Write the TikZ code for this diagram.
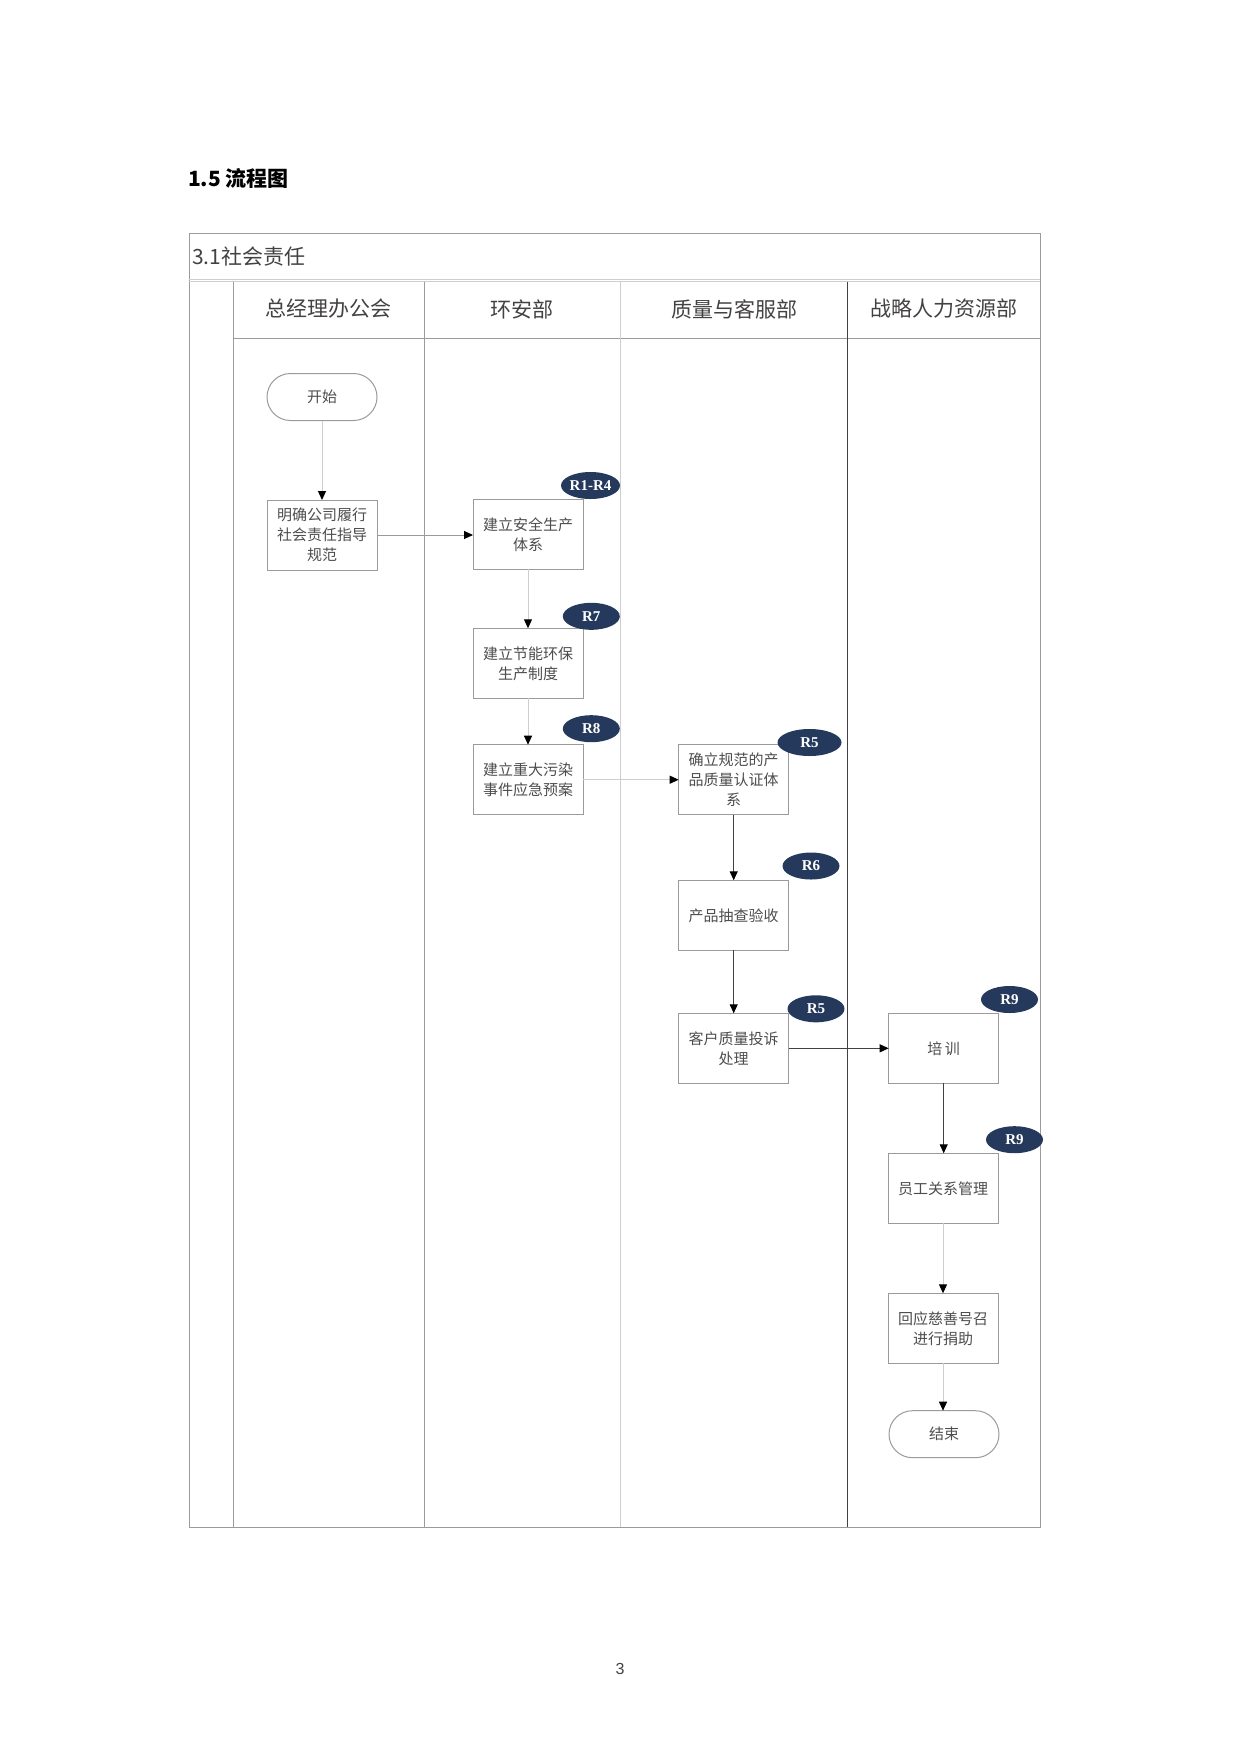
\documentclass[tikz,border=0pt]{standalone}
\usepackage{fontspec}
\setmainfont{Noto Sans CJK SC}
\newfontfamily\tagfamily{Liberation Serif}
\newfontfamily\pagefamily{Liberation Sans}
\newcommand*{\boxfont}{\fontsize{15}{20}\selectfont}
\newcommand*{\headfont}{\fontsize{21}{24}\selectfont}
\newcommand*{\tagfont}{\tagfamily\bfseries\fontsize{15}{15}\selectfont}
\definecolor{navy}{cmyk}{0.74,0.41,0.00,0.61}
\definecolor{lightgrey}{cmyk}{0.00,0.00,0.00,0.22}
\definecolor{grey}{cmyk}{0.00,0.00,0.00,0.45}
\definecolor{darkgrey}{cmyk}{0.00,0.00,0.00,0.85}
\definecolor{textgrey}{cmyk}{0.00,0.00,0.00,0.80}
\usetikzlibrary{arrows.meta}
\usetikzlibrary{shapes.geometric}
\tikzstyle{base}=[x=1pt, y=-1pt, inner sep=0pt, outer sep=0pt, line width=1pt]
\tikzstyle{task}=[draw=grey, fill=white, minimum width=110pt, minimum height=70pt, align=center, text=textgrey, font=\boxfont]
\tikzstyle{terminal}=[task, minimum height=47pt, rounded corners=23.5pt]
\tikzstyle{tag}=[ellipse, fill=navy, minimum width=57pt, minimum height=27pt, text=white, font=\tagfont]
\tikzstyle{flow}=[-{Triangle[length=9pt,width=8pt,color=black]}, darkgrey]
\tikzstyle{faint}=[flow, draw=lightgrey]

\begin{document}
\begin{tikzpicture}[base]
    \useasboundingbox [fill=white] (0,0) rectangle (1241,1754);
    % page heading and number
    \node [anchor=west, font=\bfseries\fontsize{21}{24}\selectfont] (heading) at (188,178) {1.5 流程图};
    \node [font=\pagefamily\fontsize{16}{18}\selectfont, text=darkgrey] (pageno) at (620,1669) {3};
    % swimlane frame
    \draw [grey] (189,233) rectangle (1040,1527);
    \draw [lightgrey] (189,279) -- (1040,279);
    \draw [lightgrey] (189,281.5) -- (1040,281.5);
    \draw [grey] (233,338) -- (1040,338);
    \draw [grey] (233,281.5) -- (233,1527);
    \draw [grey] (424,281.5) -- (424,1527);
    \draw [lightgrey] (620.5,281.5) -- (620.5,1527);
    \draw [darkgrey] (847.5,281.5) -- (847.5,1527);
    \node [anchor=west, font=\headfont, text=darkgrey] (chart) at (192,257) {3.1社会责任};
    \foreach \x/\name/\dept in {328.5/office/总经理办公会, 522/safety/环安部, 734/quality/质量与客服部, 944/hr/战略人力资源部}
        \node [font=\headfont, text=darkgrey] (\name) at (\x,309) {\dept};
    % steps
    \node [terminal] (start) at (322,397) {开始};
    \node [task] (guide) at (322,535) {明确公司履行\\社会责任指导\\规范};
    \node [task] (safe) at (528,534.3) {建立安全生产\\体系};
    \node [task] (green) at (528,663.3) {建立节能环保\\生产制度};
    \node [task] (plan) at (528,779.7) {建立重大污染\\事件应急预案};
    \node [task] (cert) at (733.7,779.7) {确立规范的产\\品质量认证体\\系};
    \node [task] (check) at (733.7,915.3) {产品抽查验收};
    \node [task] (claim) at (733.7,1048.3) {客户质量投诉\\处理};
    \node [task] (train) at (943.7,1048.3) {培\,训};
    \node [task] (staff) at (943,1188.3) {员工关系管理};
    \node [task] (charity) at (943,1328.3) {回应慈善号召\\进行捐助};
    \node [terminal] (stop) at (944,1434.2) {结束};
    % risk tags
    \node [tag, minimum width=59pt] (t1) at (590.5,485.5) {R1-R4};
    \node [tag] (t2) at (591.3,616.3) {R7};
    \node [tag] (t3) at (591.3,728.7) {R8};
    \node [tag, minimum width=64pt] (t4) at (809.5,742.5) {R5};
    \node [tag] (t5) at (811,866) {R6};
    \node [tag] (t6) at (816,1008.8) {R5};
    \node [tag] (t7) at (1009.5,999.5) {R9};
    \node [tag] (t8) at (1014.5,1139.7) {R9};
    % connectors
    \draw [faint] (start) -- (guide);
    \draw [flow, draw=grey] (guide.east) -- (guide.east -| safe.west);
    \draw [faint] (safe) -- (green);
    \draw [faint] (green) -- (plan);
    \draw [faint] (plan) -- (cert);
    \draw [flow] (cert) -- (check);
    \draw [flow] (check) -- (claim);
    \draw [flow] (claim) -- (train);
    \draw [flow] (train.south) -- (train.south |- staff.north);
    \draw [faint] (staff) -- (charity);
    \draw [faint] (charity.south) -- (charity.south |- stop.north);
\end{tikzpicture}
\end{document}
